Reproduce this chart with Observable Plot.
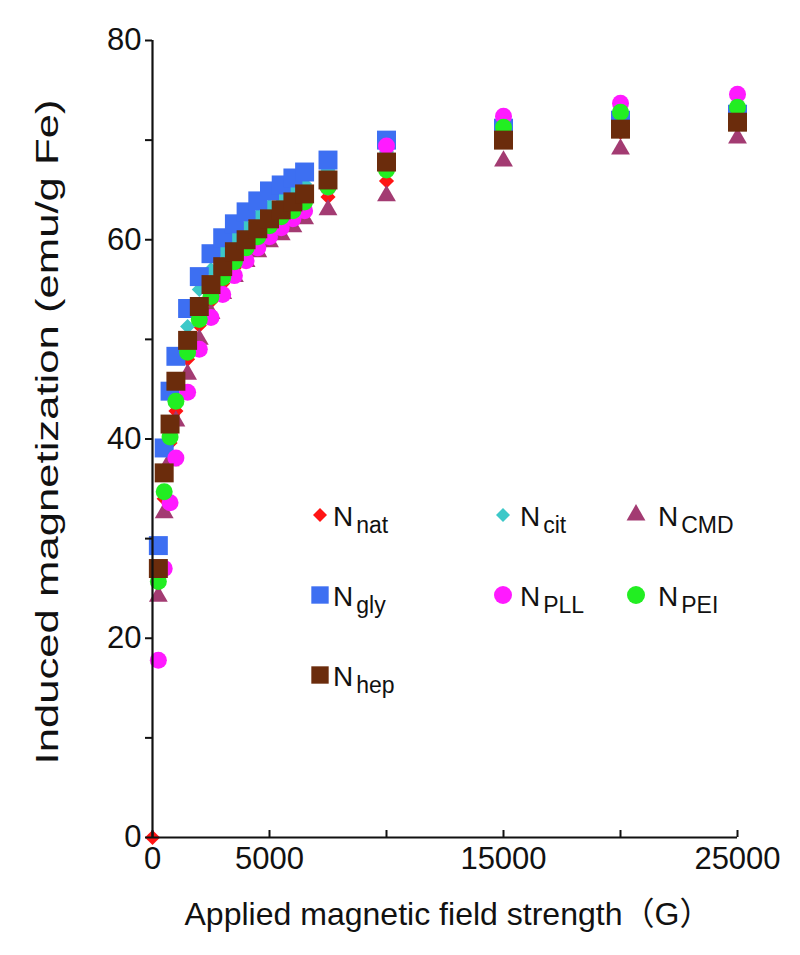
<!DOCTYPE html>
<html>
<head>
<meta charset="utf-8">
<script src="https://cdn.jsdelivr.net/npm/d3@7"></script>
<script src="https://cdn.jsdelivr.net/npm/@observablehq/plot@0.6"></script>
<style>
  html, body { margin: 0; padding: 0; background: #fff; }
  #wrap { position: relative; width: 800px; height: 955px; font-family: "Liberation Sans", Arial, "Noto Sans CJK SC", sans-serif; color: #111; }
  .lg-mark { position: absolute; width: 26px; height: 26px; }
  .lg-text { position: absolute; font-size: 28px; line-height: 28px; white-space: nowrap; }
  .lg-text .sub { font-size: 23px; position: relative; top: 7px; margin-left: 3px; }
</style>
</head>
<body>
<div id="wrap"></div>
<script>
// ---- data ----
const fields = [0, 250, 500, 750, 1000, 1500, 2000, 2500, 3000, 3500, 4000, 4500, 5000, 5500, 6000, 6500, 7500, 10000, 15000, 20000, 25000];
const nNat = [0, 25.4, 34.0, 39.6, 42.8, 48.0, 51.4, 53.8, 55.6, 57.2, 58.5, 59.6, 60.6, 61.5, 62.3, 63.1, 64.3, 65.9, 70.2, 70.8, 71.5];
const nCit = [null, 26.5, 36.5, 41.5, 45.5, 51.3, 55.0, 57.0, 58.8, 60.2, 61.3, 62.4, 63.4, 64.2, 65.0, 65.6, 67.0, 68.8, 70.8, 71.6, 72.2];
const nCMD = [null, 24.2, 32.6, 37.8, 41.8, 46.5, 50.0, 52.6, 54.6, 56.3, 57.8, 58.8, 59.8, 60.5, 61.3, 62.1, 63.0, 64.4, 67.9, 69.1, 70.2];
const nGly = [null, 29.3, 39.1, 44.8, 48.3, 53.1, 56.3, 58.6, 60.2, 61.6, 62.8, 63.9, 64.9, 65.5, 66.2, 66.8, 68.0, 70.0, 71.2, 72.0, 72.6];
const nPLL = [null, 17.8, 27.0, 33.6, 38.1, 44.7, 49.0, 52.2, 54.5, 56.4, 57.9, 59.2, 60.3, 61.2, 62.1, 62.9, 65.3, 69.4, 72.4, 73.7, 74.6];
const nPEI = [null, 25.7, 34.7, 40.2, 43.8, 48.7, 52.0, 54.3, 56.2, 57.8, 59.2, 60.3, 61.4, 62.3, 62.9, 63.8, 65.3, 67.0, 71.3, 72.8, 73.3];
const nHep = [null, 27.0, 36.6, 41.5, 45.8, 49.9, 53.3, 55.5, 57.3, 58.8, 60.0, 61.1, 62.1, 63.0, 63.8, 64.6, 66.0, 67.8, 70.0, 71.1, 71.8];

const seriesNames = ["nat", "cit", "CMD", "gly", "PLL", "PEI", "hep"];
const seriesValues = [nNat, nCit, nCMD, nGly, nPLL, nPEI, nHep];
const seriesColors = ["#ff1414", "#3cc8c8", "#a33b72", "#3d6ff2", "#ff1aff", "#22ee22", "#6b2c0c"];
const seriesSymbols = ["diamond2", "diamond2", "triangle", "square", "circle", "circle", "square"];

const xTicks = [0, 5000, 10000, 15000, 20000, 25000];
const xTickLabels = [0, 5000, 15000, 25000];
const yTicks = [0, 10, 20, 30, 40, 50, 60, 70, 80];
const yTickLabels = [0, 20, 40, 60, 80];
const xLabel = "Applied magnetic field strength（G）";
const yLabel = "Induced magnetization (emu/g Fe)";

// ---- styling ----
const symbolRadius = { diamond2: 6.8, triangle: 7.0, square: 10.7, circle: 8.5 };
const fontStack = '"Liberation Sans", Arial, "Noto Sans CJK SC", sans-serif';
const xTickLength = 0.7; // inward tick length, in y units (≈7px)

const dotMarks = seriesNames.map((name, i) => {
  const rows = fields
    .map((f, j) => ({ x: f, y: seriesValues[i][j] }))
    .filter(d => d.y != null);
  return Plot.dot(rows, {
    x: "x", y: "y",
    symbol: seriesSymbols[i],
    r: symbolRadius[seriesSymbols[i]],
    fill: seriesColors[i],
    stroke: "none"
  });
});

const plot = Plot.plot({
  width: 800,
  height: 955,
  marginLeft: 152,
  marginRight: 63,
  marginTop: 40,
  marginBottom: 118,
  x: { domain: [0, 25000] },
  y: { domain: [0, 80] },
  style: { fontFamily: fontStack, fontSize: "31px", color: "#111", background: "white" },
  marks: [
    ...dotMarks,
    Plot.ruleX([0], { stroke: "#111", strokeWidth: 2.2 }),
    Plot.ruleY([0], { stroke: "#111", strokeWidth: 2.2 }),
    // inward x ticks (drawn upward from the axis)
    Plot.ruleX(xTicks, { x: d => d, y1: 0, y2: xTickLength, stroke: "#111", strokeWidth: 2 }),
    Plot.axisX(xTickLabels, {
      tickSize: 0, tickPadding: 9, tickFormat: "d", fontSize: 31,
      label: null
    }),
    Plot.axisY(yTicks, {
      tickSize: 7, tickPadding: 4, strokeWidth: 2, fontSize: 31,
      tickFormat: d => yTickLabels.includes(d) ? String(d) : "",
      label: null
    })
  ]
});

const svg = d3.select(plot);
// x axis title
svg.append("text")
  .attr("x", 448)
  .attr("y", 913)
  .attr("text-anchor", "middle")
  .attr("dy", "0.36em")
  .attr("font-family", fontStack)
  .attr("font-size", 32)
  .attr("fill", "#111")
  .attr("textLength", 527)
  .attr("lengthAdjust", "spacingAndGlyphs")
  .text(xLabel);
// y axis title (stretched along its length, as in the reference)
svg.append("text")
  .attr("transform", "translate(46,432) rotate(-90)")
  .attr("text-anchor", "middle")
  .attr("dy", "0.36em")
  .attr("font-family", fontStack)
  .attr("font-size", 32)
  .attr("fill", "#111")
  .attr("textLength", 665)
  .attr("lengthAdjust", "spacingAndGlyphs")
  .text(yLabel);

const wrap = document.getElementById("wrap");
wrap.appendChild(plot);

// ---- legend inside the plot (3 columns, row-major) ----
const legendCols = [320, 503, 636];
const legendRows = [515, 595, 675];
const legendTextOffset = [13, 17, 22];
const legendR = { diamond2: 6.3, triangle: 7.0, square: 9.8, circle: 9.0 };
const d3Sym = {
  diamond2: d3.symbolDiamond2, triangle: d3.symbolTriangle,
  square: d3.symbolSquare, circle: d3.symbolCircle
};
seriesNames.forEach((name, i) => {
  const col = i % 3, row = Math.floor(i / 3);
  const cx = legendCols[col], cy = legendRows[row];
  const sym = seriesSymbols[i];
  const r = legendR[sym];
  const path = d3.symbol(d3Sym[sym], r * r * Math.PI)();
  const m = document.createElementNS("http://www.w3.org/2000/svg", "svg");
  m.setAttribute("class", "lg-mark");
  m.setAttribute("viewBox", "-13 -13 26 26");
  m.style.left = (cx - 13) + "px";
  m.style.top = (cy - 13) + "px";
  const p = document.createElementNS("http://www.w3.org/2000/svg", "path");
  p.setAttribute("d", path);
  p.setAttribute("fill", seriesColors[i]);
  m.appendChild(p);
  wrap.appendChild(m);
  const t = document.createElement("div");
  t.className = "lg-text";
  t.style.left = (cx + legendTextOffset[col]) + "px";
  t.style.top = (cy - 12) + "px";
  t.innerHTML = 'N<span class="sub">' + name + '</span>';
  wrap.appendChild(t);
});
</script>
</body>
</html>
